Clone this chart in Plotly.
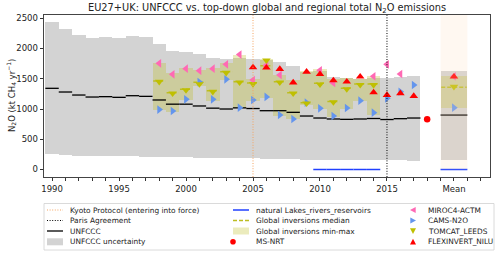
import plotly.graph_objects as go

# ---------------- data ----------------
years = list(range(1990, 2018))
unfccc = [1342, 1281, 1231, 1198, 1204, 1193, 1220, 1209, 1149, 1080,
          1080, 1050, 1014, 1000, 1019, 1008, 972, 972, 945, 884,
          851, 835, 829, 835, 843, 826, 840, 851]
unc_low = [256, 236, 226, 220, 218, 216, 218, 214, 208, 204,
           200, 197, 194, 191, 189, 185, 175, 173, 172, 160,
           158, 157, 157, 157, 156, 152, 150, 146]
unc_high = [2433, 2317, 2228, 2168, 2185, 2173, 2207, 2185, 2080, 1959,
            1948, 1909, 1838, 1821, 1840, 1832, 1815, 1772, 1711, 1617,
            1630, 1534, 1512, 1491, 1515, 1507, 1534, 1550]

inv_years = list(range(1998, 2018))
miroc = [1755, 1573, 1667, 1634, 1667, 1738, 1900, 1479, 1722, 1562,
         None, None, 1640, 1430, None, None, 1540, 1738, 1578, None]
cams = [990, 967, 1160, 1445, 1160, 1491, 1022, 1149, 1200, 901,
        835, 1105, 1011, 884, 1016, 1138, 939, 1177, 1286, 1397]
tomcat = [1452, 1259, 1314, 1413, 1286, 1600, 1441, 1415, 1805, 1441,
          1259, 1094, 1408, 1115, 1330, 1400, 1397, None, None, None]
flexinvert = [None, None, None, None, None, None, None, 1689, 1683, 1661,
              1438, 1615, 1575, 1472, 1452, 1534, 1273, 1231, 1259, 1215]

box_years = list(range(1998, 2015))
inv_median = [1463, 1270, 1325, 1441, 1303, 1617, 1452, 1430, 1716, 1452,
              1270, 1105, 1424, 1125, 1345, 1413, 1413]
inv_min = [983, 955, 1149, 1380, 1138, 1479, 1011, 1140, 1177, 884,
           830, 1066, 1000, 862, 1000, 1130, 900]
inv_max = [1765, 1590, 1678, 1650, 1678, 1755, 1900, 1490, 1821, 1570,
           1480, 1634, 1656, 1491, 1518, 1491, 1545]

lakes_years = [2010, 2011, 2012, 2013, 2014]
lakes = [0, 0, 0, 0, 0]

msnrt_years = [2018]
msnrt = [830]

# mean column
mean_x = 2020
mean_unfccc = 900
mean_unc = [157, 1628]
mean_inv = [1011, 1550]
mean_median = 1358
mean_miroc = 1540
mean_cams = 1022
mean_tomcat = 1369
mean_flex = 1534
mean_lakes = 0

kyoto_year = 2005
paris_year = 2015

tick_vals = [1990, 1995, 2000, 2005, 2010, 2015, 2020]
tick_text = ["1990", "1995", "2000", "2005", "2010", "2015", "Mean"]

title = "EU27+UK: UNFCCC vs. top-down global and regional total N<sub>2</sub>O emissions"
ytitle = "N<sub>2</sub>O (kt CH<sub>4</sub> yr<sup>\u22121</sup>)"

# ---------------- styles ----------------
C_GRAY = "#d3d3d3"
C_BOX = "rgba(188,189,34,0.30)"
C_MED = "#bcbd22"
C_TOM = "#bfbf00"
C_PINK = "#ff69b4"
C_BLUE = "#6495ed"
C_RED = "#ff0000"
C_LAKE = "#2040ff"
C_KYOTO = "#f4a460"
FONT = "DejaVu Sans"

W, H = 500, 255
L, R, T, B = 44, 490, 15, 177


def segs(xs, ys, half):
    sx, sy = [], []
    for x, y in zip(xs, ys):
        if y is None:
            continue
        sx += [x - half, x + half, None]
        sy += [y, y, None]
    return sx, sy


fig = go.Figure()

# UNFCCC uncertainty
fig.add_trace(go.Bar(
    x=years + [mean_x],
    base=unc_low + [mean_unc[0]],
    y=[h - l for h, l in zip(unc_high, unc_low)] + [mean_unc[1] - mean_unc[0]],
    width=[1] * len(years) + [2],
    marker=dict(color=C_GRAY, line=dict(width=0)),
    showlegend=False, hoverinfo="skip"))

# global inversions min-max
fig.add_trace(go.Bar(
    x=box_years + [mean_x],
    base=inv_min + [mean_inv[0]],
    y=[h - l for h, l in zip(inv_max, inv_min)] + [mean_inv[1] - mean_inv[0]],
    width=[1] * len(box_years) + [2],
    marker=dict(color=C_BOX, line=dict(width=0)),
    showlegend=False, hoverinfo="skip"))

# UNFCCC
sx, sy = segs(years, unfccc, 0.5)
mx, my = segs([mean_x], [mean_unfccc], 1.0)
fig.add_trace(go.Scatter(x=sx + mx, y=sy + my, mode="lines",
                         line=dict(color="black", width=1.3),
                         showlegend=False, hoverinfo="skip"))

# natural lakes
sx, sy = segs(lakes_years, lakes, 0.5)
mx, my = segs([mean_x], [mean_lakes], 1.0)
fig.add_trace(go.Scatter(x=sx + mx, y=sy + my, mode="lines",
                         line=dict(color=C_LAKE, width=1.5),
                         showlegend=False, hoverinfo="skip"))

# global inversions median
sx, sy = segs(box_years, inv_median, 0.45)
mx, my = segs([mean_x], [mean_median], 0.95)
fig.add_trace(go.Scatter(x=sx + mx, y=sy + my, mode="lines",
                         line=dict(color=C_MED, width=1.5, dash="4px,2px"),
                         showlegend=False, hoverinfo="skip"))


def add_markers(vals, mean_val, symbol, color, size=7.5):
    fig.add_trace(go.Scatter(
        x=inv_years + [mean_x], y=vals + [mean_val], mode="markers",
        marker=dict(symbol=symbol, color=color, size=size, line=dict(width=0)),
        showlegend=False, hoverinfo="skip"))


add_markers(miroc, mean_miroc, "triangle-left", C_PINK)
add_markers(cams, mean_cams, "triangle-right", C_BLUE)
add_markers(tomcat, mean_tomcat, "triangle-down", C_TOM)
add_markers(flexinvert, mean_flex, "triangle-up", C_RED)

fig.add_trace(go.Scatter(x=msnrt_years, y=msnrt, mode="markers",
                         marker=dict(symbol="circle", color=C_RED, size=6.5),
                         showlegend=False, hoverinfo="skip"))

shapes = []
shapes.append(dict(type="rect", xref="x", yref="y", x0=mean_x - 1, x1=mean_x + 1,
                   y0=0, y1=2560, fillcolor="rgba(255,218,185,0.2)",
                   line=dict(width=0), layer="above"))
shapes.append(dict(type="line", xref="x", yref="y domain", x0=kyoto_year, x1=kyoto_year,
                   y0=0, y1=1, line=dict(color=C_KYOTO, width=1, dash="1px,1.6px"),
                   layer="above"))
shapes.append(dict(type="line", xref="x", yref="y domain", x0=paris_year, x1=paris_year,
                   y0=0, y1=1, line=dict(color="black", width=1, dash="1px,1.6px"),
                   layer="above"))


# ---------------- manual legend ----------------
def pxx(x):
    return x / W


def pyy(y):
    return 1 - y / H


annotations = []
shapes.append(dict(type="rect", xref="paper", yref="paper",
                   x0=pxx(44), x1=pxx(494), y0=pyy(250), y1=pyy(203.5),
                   line=dict(color="#d0d0d0", width=0.8), fillcolor="rgba(0,0,0,0)"))

rows = [210, 220.5, 231, 241.8]
col_sym = [47, 233, 413]
col_txt = [68, 254, 426]
leg_font = dict(family=FONT, size=7.4, color="#222")


def leg_text(col, row, text):
    annotations.append(dict(xref="paper", yref="paper", x=pxx(col_txt[col]), y=pyy(rows[row]),
                            text=text, showarrow=False, xanchor="left", yanchor="middle",
                            font=leg_font))


def leg_line(col, row, color, dash="solid", width=1.3):
    shapes.append(dict(type="line", xref="paper", yref="paper",
                       x0=pxx(col_sym[col]), x1=pxx(col_sym[col] + 16),
                       y0=pyy(rows[row]), y1=pyy(rows[row]),
                       line=dict(color=color, width=width, dash=dash)))


def leg_patch(col, row, color):
    shapes.append(dict(type="rect", xref="paper", yref="paper",
                       x0=pxx(col_sym[col]), x1=pxx(col_sym[col] + 16),
                       y0=pyy(rows[row] + 3.5), y1=pyy(rows[row] - 3.5),
                       fillcolor=color, line=dict(width=0)))


def leg_tri(col, row, kind, color, s=3.0):
    cx, cy = col_sym[col], rows[row]
    if kind == "left":
        pts = [(cx - s, cy), (cx + s * 0.9, cy - s), (cx + s * 0.9, cy + s)]
    elif kind == "right":
        pts = [(cx + s, cy), (cx - s * 0.9, cy - s), (cx - s * 0.9, cy + s)]
    elif kind == "down":
        pts = [(cx, cy + s), (cx - s, cy - s * 0.9), (cx + s, cy - s * 0.9)]
    else:
        pts = [(cx, cy - s), (cx - s, cy + s * 0.9), (cx + s, cy + s * 0.9)]
    path = "M " + " L ".join(f"{pxx(a):.5f},{pyy(b):.5f}" for a, b in pts) + " Z"
    shapes.append(dict(type="path", xref="paper", yref="paper", path=path,
                       fillcolor=color, line=dict(width=0)))


def leg_dot(col, row, color, r=2.8):
    cx, cy = col_sym[col], rows[row]
    shapes.append(dict(type="circle", xref="paper", yref="paper",
                       x0=pxx(cx - r), x1=pxx(cx + r), y0=pyy(cy + r), y1=pyy(cy - r),
                       fillcolor=color, line=dict(width=0)))


leg_line(0, 0, C_KYOTO, "1px,1.6px", 1)
leg_text(0, 0, "Kyoto Protocol (entering into force)")
leg_line(0, 1, "black", "1px,1.6px", 1)
leg_text(0, 1, "Paris Agreement")
leg_line(0, 2, "black")
leg_text(0, 2, "UNFCCC")
leg_patch(0, 3, C_GRAY)
leg_text(0, 3, "UNFCCC uncertainty")

leg_line(1, 0, C_LAKE, width=1.5)
leg_text(1, 0, "natural Lakes_rivers_reservoirs")
leg_line(1, 1, C_MED, "4px,2px", 1.5)
leg_text(1, 1, "Global inversions median")
leg_patch(1, 2, C_BOX)
leg_text(1, 2, "Global inversions min-max")
leg_dot(1, 3, C_RED)
leg_text(1, 3, "MS-NRT")

leg_tri(2, 0, "left", C_PINK)
leg_text(2, 0, "MIROC4-ACTM")
leg_tri(2, 1, "right", C_BLUE)
leg_text(2, 1, "CAMS-N2O")
leg_tri(2, 2, "down", C_TOM)
leg_text(2, 2, "TOMCAT_LEEDS")
leg_tri(2, 3, "up", C_RED)
leg_text(2, 3, "FLEXINVERT_NILU")

annotations.append(dict(xref="paper", yref="paper", x=pxx((L + R) / 2), y=pyy(9),
                        text=title, showarrow=False, xanchor="center", yanchor="middle",
                        font=dict(family=FONT, size=9.8, color="#222")))
annotations.append(dict(xref="paper", yref="paper", x=pxx(11), y=pyy((T + B) / 2),
                        text=ytitle, showarrow=False, textangle=-90,
                        xanchor="center", yanchor="middle",
                        font=dict(family=FONT, size=8.5, color="#222")))

fig.update_layout(
    width=W, height=H,
    margin=dict(l=0, r=0, t=0, b=0, autoexpand=False),
    paper_bgcolor="white", plot_bgcolor="white",
    barmode="overlay", bargap=0,
    showlegend=False,
    shapes=shapes, annotations=annotations,
    font=dict(family=FONT, size=8.5, color="#222"),
    xaxis=dict(domain=[L / W, R / W], range=[1989.4, 2022.69],
               tickmode="array", tickvals=tick_vals, ticktext=tick_text,
               ticks="outside", ticklen=3.5, tickwidth=0.8, tickcolor="#333",
               minor=dict(tickmode="linear", tick0=1990, dtick=1, ticks="outside",
                          ticklen=3.5, tickwidth=0.8, tickcolor="#333", showgrid=False),
               showgrid=False, zeroline=False, showline=True, mirror=True,
               linecolor="#444", linewidth=0.8,
               tickfont=dict(family=FONT, size=8.5, color="#222")),
    yaxis=dict(domain=[1 - B / H, 1 - T / H], range=[-124, 2554],
               tickmode="array", tickvals=[0, 500, 1000, 1500, 2000, 2500],
               ticks="outside", ticklen=3.5, tickwidth=0.8, tickcolor="#333",
               showgrid=False, zeroline=False, showline=True, mirror=True,
               linecolor="#444", linewidth=0.8,
               tickfont=dict(family=FONT, size=8.5, color="#222")),
)

fig.write_html("out.html", config={"displayModeBar": False},
               post_script="document.body.style.margin='0';document.body.style.overflow='hidden';")
